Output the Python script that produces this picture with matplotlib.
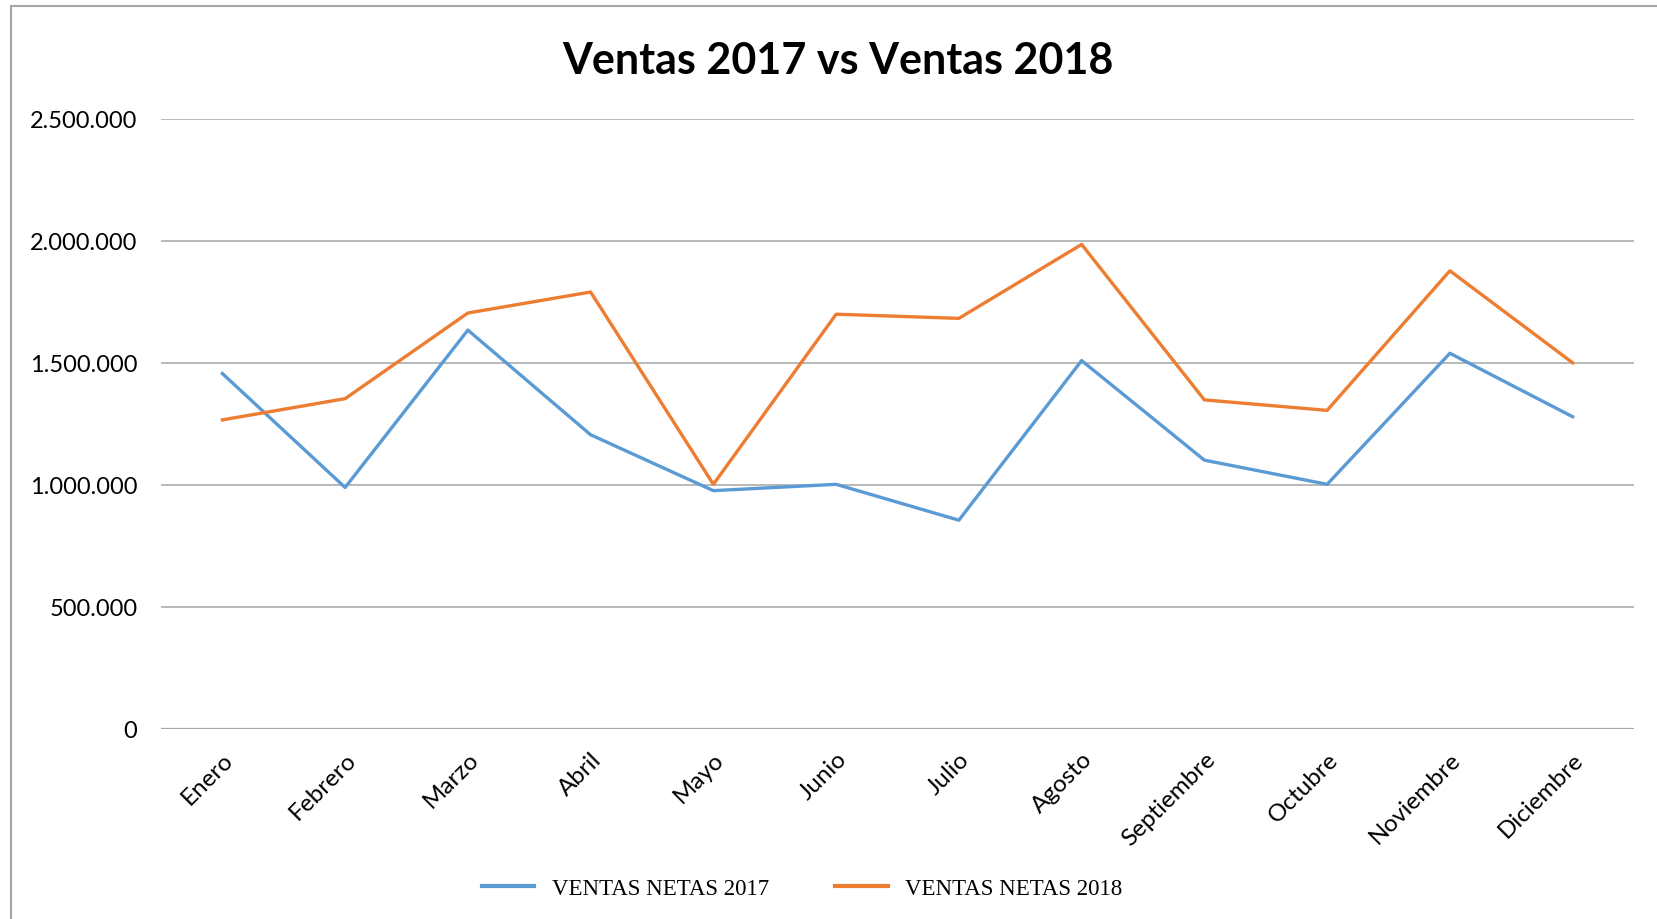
import matplotlib
matplotlib.use("Agg")
import matplotlib.pyplot as plt
from matplotlib.patches import Rectangle
from matplotlib.ticker import FuncFormatter
import matplotlib.transforms as mtrans

meses = ["Enero", "Febrero", "Marzo", "Abril", "Mayo", "Junio", "Julio",
         "Agosto", "Septiembre", "Octubre", "Noviembre", "Diciembre"]
ventas_2017 = [1455000, 988000, 1633000, 1204000, 975000, 1001000, 854000,
               1508000, 1100000, 1001000, 1538000, 1278000]
ventas_2018 = [1265000, 1352000, 1703000, 1789000, 1001000, 1698000, 1681000,
               1984000, 1347000, 1304000, 1876000, 1499000]
y_ticks = [0, 500000, 1000000, 1500000, 2000000, 2500000]
titulo = "Ventas 2017 vs Ventas 2018"
serie_2017 = "VENTAS NETAS 2017"
serie_2018 = "VENTAS NETAS 2018"

fig = plt.figure(figsize=(16.58, 9.2), dpi=100)
fig.patch.set_facecolor("white")
# chart border (left and top visible)
fig.add_artist(Rectangle((11/1658, -0.1), 1.2, 1 - 7/920 + 0.1,
                         transform=fig.transFigure, fill=False,
                         edgecolor="#A6A6A6", linewidth=1.5))

ax = fig.add_axes([161/1658, 1 - 729.6/920, (1634-161)/1658, (729.6-119.5)/920])
x = list(range(len(meses)))
ax.plot(x, ventas_2017, color="#5B9BD5", linewidth=2.4, solid_joinstyle="round",
        label=serie_2017, zorder=3)
ax.plot(x, ventas_2018, color="#ED7D31", linewidth=2.4, solid_joinstyle="round",
        label=serie_2018, zorder=3)

ax.set_xlim(-0.5, len(meses) - 0.5)
ax.set_ylim(0, 2500000)
ax.set_yticks(y_ticks)
ax.yaxis.set_major_formatter(FuncFormatter(lambda v, p: f"{int(v):,}".replace(",", ".")))
ax.set_xticks(x)
ax.set_xticklabels(meses, rotation=45, ha="right", rotation_mode="anchor",
                   fontsize=17.5, family="Lato")
offset = mtrans.ScaledTranslation(-6/100, -2/100, fig.dpi_scale_trans)
for lab in ax.get_xticklabels():
    lab.set_transform(lab.get_transform() + offset)
for lab in ax.get_yticklabels():
    lab.set_family("Lato")
    lab.set_fontsize(17)
ax.tick_params(axis="both", length=0)
ax.tick_params(axis="y", pad=17)
ax.tick_params(axis="x", pad=14)
ax.grid(axis="y", color="#A6A6A6", linewidth=1.1)
ax.set_axisbelow(True)
for s in ax.spines.values():
    s.set_visible(False)
ax.axhline(0, color="#A6A6A6", linewidth=1.6, zorder=1)

fig.text(1 - (1658 - 1)/1658 + 0.5 * (1) - 0.0 + 0.0045, 1 - 61/920, titulo,
         ha="center", va="center", fontsize=31, fontweight="bold", family="Lato")

leg = fig.legend(loc="center", bbox_to_anchor=(802/1658, 1 - 889/920), ncol=2,
                 frameon=False, prop={"family": "Liberation Serif", "size": 16.5},
                 handlelength=2.3, handletextpad=0.75, columnspacing=2.9)
for line in leg.get_lines():
    line.set_linewidth(3)

fig.savefig("out.png", dpi=100)
